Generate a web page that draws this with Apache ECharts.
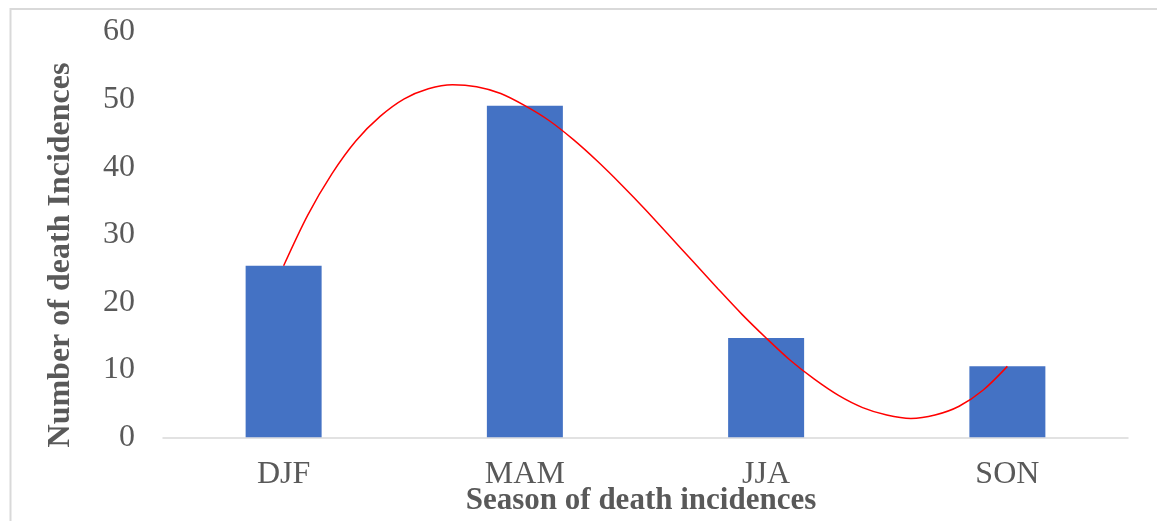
<!DOCTYPE html>
<html>
<head>
<meta charset="utf-8">
<script src="https://cdn.jsdelivr.net/npm/echarts@6/dist/echarts.min.js"></script>
<style>
html,body{margin:0;padding:0;background:#fff;}
#chart{width:1157px;height:521px;}
</style>
</head>
<body>
<div id="chart"></div>
<script>
// Categories and bar values
var seasons = ['DJF', 'MAM', 'JJA', 'SON'];
var deaths = [25.4, 49.1, 14.7, 10.5];
// Y-axis ticks
var yTicks = [0, 10, 20, 30, 40, 50, 60];
// Red trend curve, positions in category units (0 = DJF ... 3 = SON) and values
var trendX = [0, 0.1, 0.2, 0.3, 0.4, 0.5, 0.6, 0.7, 0.8, 0.9, 1.0, 1.1, 1.2, 1.3, 1.4, 1.5, 1.6, 1.7, 1.8, 1.9, 2.0, 2.1, 2.2, 2.3, 2.4, 2.5, 2.6, 2.7, 2.8, 2.9, 3.0];
var trendY = [25.4, 32.9, 39.0, 43.9, 47.5, 50.1, 51.6, 52.2, 51.9, 50.9, 49.1, 46.9, 44.1, 40.9, 37.4, 33.7, 29.8, 25.9, 22.0, 18.2, 14.7, 11.4, 8.6, 6.2, 4.4, 3.3, 2.8, 3.3, 4.6, 7.0, 10.5];

var trendData = trendX.map(function (x, i) { return [x, trendY[i]]; });

var chart = echarts.init(document.getElementById('chart'), null, {renderer: 'canvas'});
var txt = '#595959';
var font = 'Liberation Serif';
chart.setOption({
  animation: false,
  backgroundColor: '#ffffff',
  grid: {left: 163, right: 29, top: 32, bottom: 83.7, containLabel: false},
  xAxis: [{
    type: 'category',
    data: seasons,
    axisLine: {show: true, lineStyle: {color: '#d9d9d9', width: 1.5}},
    axisTick: {show: false},
    axisLabel: {color: txt, fontFamily: font, fontSize: 32, margin: 21}
  }, {
    type: 'value',
    min: -0.5,
    max: 3.5,
    show: false
  }],
  yAxis: {
    type: 'value',
    min: yTicks[0],
    max: yTicks[yTicks.length - 1],
    interval: yTicks[1] - yTicks[0],
    axisLine: {show: false},
    axisTick: {show: false},
    splitLine: {show: false},
    axisLabel: {color: txt, fontFamily: font, fontSize: 32, margin: 28}
  },
  series: [{
    type: 'bar',
    data: deaths,
    xAxisIndex: 0,
    barWidth: '31.5%',
    itemStyle: {color: '#4472C4'}
  }, {
    type: 'line',
    data: trendData,
    xAxisIndex: 1,
    smooth: 0.3,
    showSymbol: false,
    symbol: 'none',
    lineStyle: {color: '#ff0000', width: 1.5},
    z: 5
  }],
  graphic: [{
    type: 'rect',
    shape: {x: 10.5, y: 9, width: 1300, height: 700},
    style: {fill: 'none', stroke: '#d9d9d9', lineWidth: 2},
    silent: true
  }, {
    type: 'text',
    x: 641,
    y: 501,
    style: {text: 'Season of death incidences', fill: txt, font: 'bold 31px "Liberation Serif"', textAlign: 'center', textVerticalAlign: 'middle'}
  }, {
    type: 'text',
    x: 61,
    y: 255,
    rotation: Math.PI / 2,
    style: {text: 'Number of death Incidences', fill: txt, font: 'bold 32px "Liberation Serif"', textAlign: 'center', textVerticalAlign: 'middle'}
  }]
});
</script>
</body>
</html>
